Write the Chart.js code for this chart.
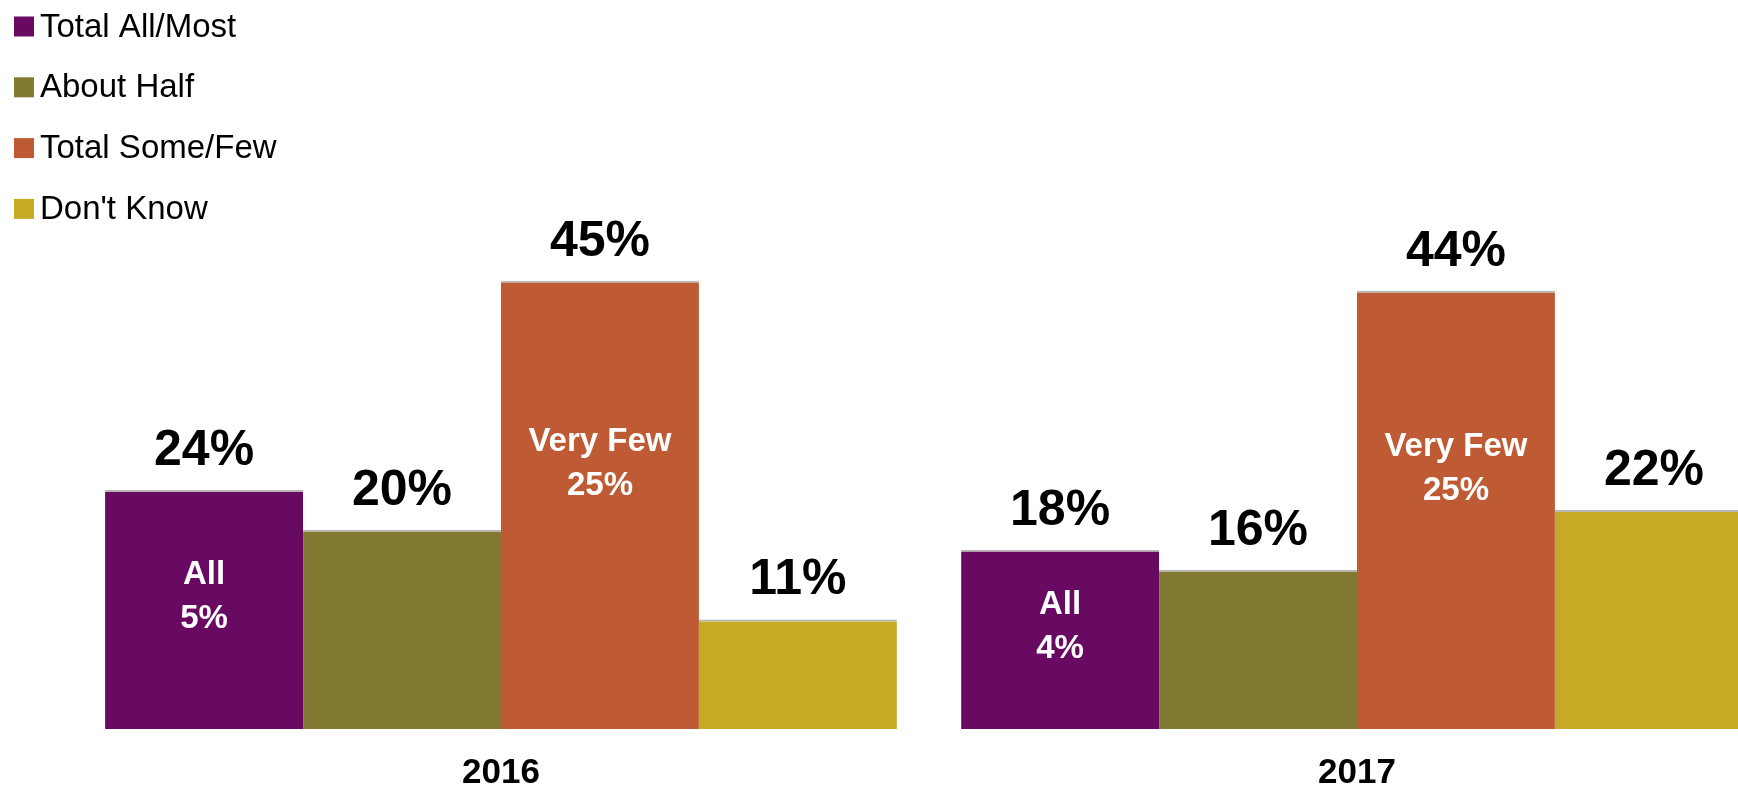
<!DOCTYPE html>
<html>
<head>
<meta charset="utf-8">
<script src="https://cdn.jsdelivr.net/npm/chart.js@4.4.0/dist/chart.umd.min.js"></script>
<style>
  html, body { margin: 0; padding: 0; background: #fff; overflow: hidden; }
  /* wider/taller than the window: the last bar is cut by the right edge like in the source */
  #wrap { width: 1800px; height: 818px; position: relative; }
</style>
</head>
<body>
<div id="wrap"><canvas id="chart"></canvas></div>
<script>
// data
const years = ['2016', '2017'];
const seriesNames = ['Total All/Most', 'About Half', 'Total Some/Few', "Don't Know"];
const totalAllMost = [24, 18];
const aboutHalf = [20, 16];
const totalSomeFew = [45, 44];
const dontKnow = [11, 22];
// sub-shares printed inside bars
const allShare = [5, 4];
const veryFewShare = [25, 25];

const seriesColors = ['#690a62', '#827a31', '#be5b34', '#c7ab27'];

// value labels on top + the white "All"/"Very Few" labels inside bars
const barLabels = {
    id: 'barLabels',
    afterDatasetsDraw(chart) {
        const ctx = chart.ctx;
        const yScale = chart.scales.y;
        ctx.save();
        ctx.textAlign = 'center';
        chart.data.datasets.forEach((ds, i) => {
            const meta = chart.getDatasetMeta(i);
            meta.data.forEach((bar, j) => {
                ctx.fillStyle = '#000';
                ctx.font = 'bold 50px "Liberation Sans", Arial, sans-serif';
                ctx.textBaseline = 'alphabetic';
                ctx.fillText(ds.data[j] + '%', bar.x, bar.y - 25);

                if (ds.inner) {
                    // a bit above the middle of the bar
                    const mid = yScale.getPixelForValue(ds.data[j] / 2 + ds.inner.lift);
                    ctx.fillStyle = '#fff';
                    ctx.font = 'bold 33px "Liberation Sans", Arial, sans-serif';
                    ctx.textBaseline = 'middle';
                    ctx.fillText(ds.inner.title, bar.x, mid - 22);
                    ctx.fillText(ds.inner.values[j] + '%', bar.x, mid + 22);
                }
            });
        });
        ctx.restore();
    }
};

// stacked legend in the top-left corner
const sideLegend = {
    id: 'sideLegend',
    afterDraw(chart) {
        const ctx = chart.ctx;
        ctx.save();
        ctx.font = '33px "Liberation Sans", Arial, sans-serif';
        ctx.textBaseline = 'middle';
        ctx.textAlign = 'left';
        chart.data.datasets.forEach((ds, i) => {
            const y = 26.5 + i * 60.8;
            ctx.fillStyle = ds.backgroundColor;
            ctx.fillRect(14, y - 10, 20, 20);
            ctx.fillStyle = '#000';
            ctx.fillText(ds.label, 40, y + 1);
        });
        ctx.restore();
    }
};

const seriesData = [totalAllMost, aboutHalf, totalSomeFew, dontKnow];

const datasets = seriesNames.map((name, i) => ({
    label: name,
    data: seriesData[i],
    backgroundColor: seriesColors[i],
    borderColor: 'rgba(175,175,175,0.9)',
    borderWidth: { top: 2, left: 0, right: 0, bottom: 0 },
    borderSkipped: false
}));
datasets[0].inner = { title: 'All', values: allShare, lift: 1.3 };
datasets[2].inner = { title: 'Very Few', values: veryFewShare, lift: 4.15 };

const ctx = document.getElementById('chart').getContext('2d');
const chart = new Chart(ctx, {
    type: 'bar',
    data: {
        labels: years,
        datasets: datasets
    },
    options: {
        responsive: true,
        maintainAspectRatio: false,
        animation: false,
        layout: {
            padding: { left: 73, right: 15, top: 231, bottom: 0 }
        },
        datasets: {
            bar: { categoryPercentage: 0.925, barPercentage: 1 }
        },
        plugins: {
            legend: { display: false },
            tooltip: { enabled: false }
        },
        scales: {
            x: {
                grid: { display: false, drawTicks: false },
                border: { display: false },
                ticks: {
                    color: '#000',
                    padding: 27,
                    font: {
                        family: '"Liberation Sans Narrow", "Arial Narrow", "Liberation Sans", Arial, sans-serif',
                        size: 35,
                        weight: 'bold',
                        lineHeight: 1
                    }
                }
            },
            y: {
                display: false,
                min: 0,
                max: 50
            }
        }
    },
    plugins: [barLabels, sideLegend]
});
</script>
</body>
</html>
